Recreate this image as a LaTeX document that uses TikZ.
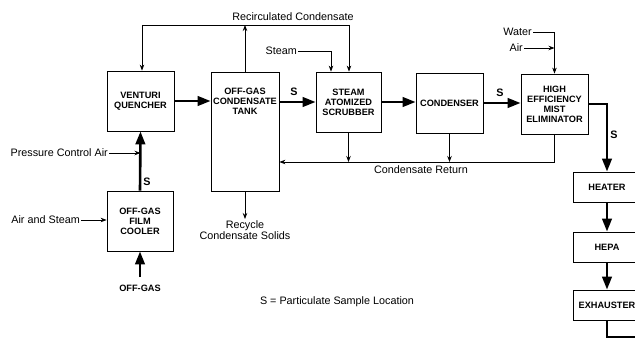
\documentclass[tikz,border=0pt]{standalone}
\usepackage{fontspec}
\setmainfont{Liberation Sans}
\usetikzlibrary{arrows.meta, positioning, calc}

\tikzset{
  unit/.style={draw, line width=0.8pt, minimum width=67pt, minimum height=60pt,
    font=\fontsize{9.2}{10}\selectfont\bfseries, align=center, inner sep=1pt},
  flow/.style={line width=2.6pt, line join=miter, -{Triangle[length=13pt,width=9.5pt]}},
  feed/.style={line width=0.8pt, -{Stealth[length=6pt,width=4.5pt]}},
  pipe/.style={line width=0.8pt},
  lbl/.style={font=\fontsize{10.8}{11.5}\selectfont, inner sep=1pt},
  slbl/.style={font=\fontsize{10.8}{11.5}\selectfont\bfseries, inner sep=1pt},
}

\begin{document}
\begin{tikzpicture}[x=1pt, y=-1pt]
    \useasboundingbox (0,0) rectangle (635,342);
    \clip (0,0) rectangle (635,342);

    % Main train
    \node[unit] (vq) at (140.5,101) {VENTURI\\QUENCHER};
    \node[unit, minimum width=68pt, minimum height=119pt] (tank) at (245,131.5) {};
    \node[font=\fontsize{9.2}{10}\selectfont\bfseries, align=center] (tanktxt) at (245,101) {OFF-GAS\\CONDENSATE\\TANK};
    \node[unit, minimum width=65pt] (scr) at (348.5,102) {STEAM\\ATOMIZED\\SCRUBBER};
    \node[unit] (cond) at (449.5,103) {CONDENSER};
    \node[unit] (heme) at (554.5,104) {HIGH\\EFFICIENCY\\MIST\\ELIMINATOR};
    \node[unit, minimum width=66pt] (cooler) at (140,221) {OFF-GAS\\FILM\\COOLER};

    % Stack column
    \node[unit, minimum width=68pt, minimum height=30pt] (heater) at (607,187) {HEATER};
    \node[unit, minimum width=68pt, minimum height=30pt] (hepa) at (607,247) {HEPA};
    \node[unit, minimum width=68pt, minimum height=30pt] (exh) at (607,305) {EXHAUSTER};

    % Gas flow
    \node[font=\fontsize{9.2}{10}\selectfont\bfseries] (og) at (140,288) {OFF-GAS};
    \draw[flow] ($(og.north)+(0,-4)$) -- (cooler.south);
    \draw[flow] (cooler.north) -- (vq.south);
    \node[slbl] (s0) at (147,182) {S};
    \draw[flow] (vq.east) -- (vq.east -| tank.west);
    \draw[flow] (tank.east |- scr.west) -- (scr.west);
    \node[slbl] (s1) at (294,92) {S};
    \draw[flow] (scr.east) -- (scr.east -| cond.west);
    \draw[flow] (cond.east) -- (cond.east -| heme.west);
    \node[slbl] (s2) at (500,93) {S};
    \draw[flow] (heme.east) -| (heater.north);
    \node[slbl] (s3) at (614,135) {S};
    \draw[flow] (heater.south) -- (hepa.north);
    \draw[flow] (hepa.south) -- (exh.north);
    \coordinate (outl) at (607,337);
    \draw[line width=2.6pt, line join=miter] (exh.south) -- (outl) -- ++(40,0);

    % Side feeds
    \node[lbl, anchor=east] (pca) at (109,153) {Pressure Control Air};
    \draw[feed] (pca.east) -- (pca.east -| vq.south);
    \node[lbl, anchor=east] (ans) at (81,220) {Air and Steam};
    \draw[feed] (ans.east) -- (ans.east -| cooler.west);
    \node[lbl, anchor=east] (steam) at (298,51) {Steam};
    \coordinate (stm) at (331,51);
    \draw[feed] (steam.east) -- (stm) -- (stm |- scr.north);
    \node[lbl, anchor=east] (water) at (533,32) {Water};
    \draw[feed] (water.east) -| (heme.north);
    \node[lbl, anchor=east] (air) at (524,48) {Air};
    \draw[feed] (air.east) -- (air.east -| heme.north);

    % Recirculated condensate
    \coordinate (rcl) at (142,25);
    \coordinate (rcr) at (349,25);
    \node[lbl] (rclbl) at (293,17) {Recirculated Condensate};
    \draw[pipe] (rcl) -- (rcr);
    \draw[feed] (rcl) -- (rcl |- vq.north);
    \draw[feed] (tank.north) -- (tank.north |- rcl);
    \draw[feed] (rcr) -- (rcr |- scr.north);

    % Condensate return
    \coordinate (ret) at (554.5,162);
    \draw[feed] (heme.south) -- (ret) -- (ret -| tank.east);
    \draw[feed] (scr.south) -- (scr.south |- ret);
    \draw[feed] (cond.south) -- (cond.south |- ret);
    \node[lbl] (retlbl) at (421,170) {Condensate Return};

    % Solids
    \node[lbl, align=center, anchor=north] (rcy) at (245,219) {Recycle\\Condensate Solids};
    \draw[feed] (tank.south) -- (rcy.north);

    % Legend
    \node[lbl] (key) at (337,302) {S = Particulate Sample Location};
\end{tikzpicture}
\end{document}
